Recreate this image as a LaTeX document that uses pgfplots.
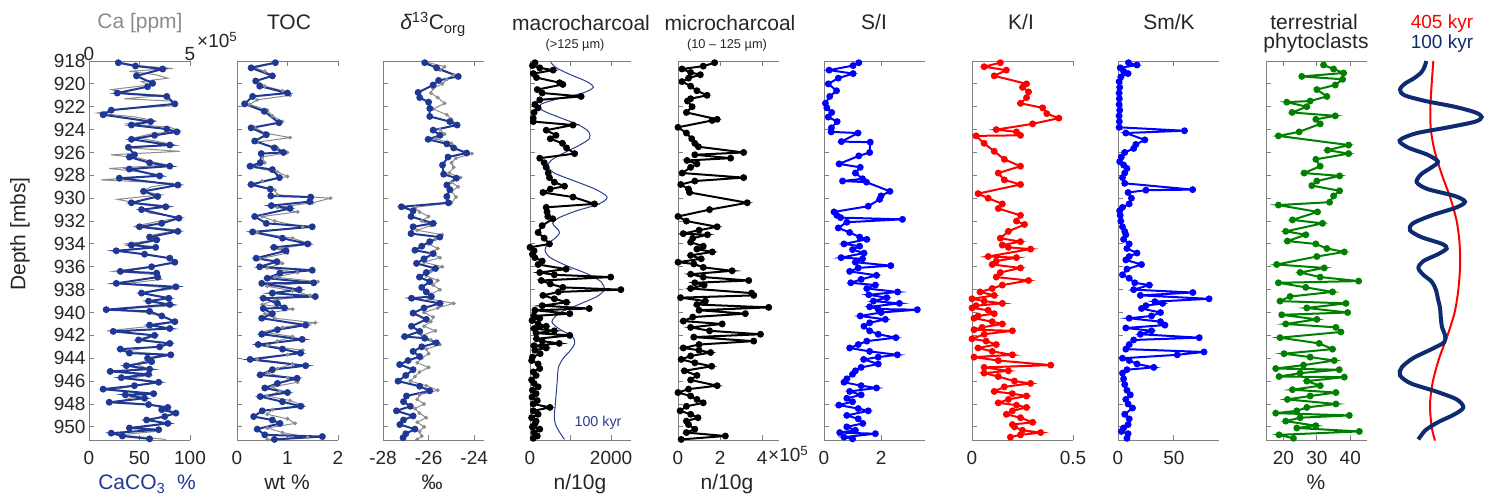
\documentclass[border=0pt]{standalone}
\usepackage{fontspec}
\setmainfont{Liberation Sans}
\usepackage{pgfplots}
\usepackage{pgfplotstable}
\pgfplotsset{compat=1.18}

\definecolor{axgray}{HTML}{808080}
\definecolor{lbl}{HTML}{262626}
\definecolor{cablue}{HTML}{1F3894}
\definecolor{grayser}{HTML}{8C8C8C}
\definecolor{navy}{HTML}{0D2B6E}
\definecolor{kyrblue}{HTML}{2B3F8F}
\definecolor{phgreen}{HTML}{008000}

\newcommand\tickfont{\fontsize{19}{21}\selectfont}
\newcommand\titlefont{\fontsize{21}{23}\selectfont}
\newcommand\subfont{\fontsize{12.8}{14}\selectfont}

\pgfplotsset{
  panel/.style={
    scale only axis, width=101pt, height=379pt, anchor=south west,
    y dir=reverse, ymin=918, ymax=951.15,
    ytick={918,920,...,950}, yticklabels={},
    axis x line=box, axis y line=left,
    axis line style={draw=axgray, line width=0.9pt, -},
    every tick/.style={draw=axgray, line width=0.9pt},
    major tick length=5pt, tick align=inside,
    xticklabel style={text=lbl, font=\tickfont, yshift=-8pt},
    yticklabel style={text=lbl, font=\tickfont},
  },
  dots/.style={line width=2pt, mark=*, mark size=2.4pt, mark options={solid}},
  thin dots/.style={line width=1pt, mark=*, mark size=1.4pt, mark options={solid}},
}

% CaCO3 (%)
\pgfplotstableread{
d v
918.15 29
918.44 46
918.7 73
919.3 47
919.95 63
920.25 58
920.8 28
921.1 77
921.75 85
922.3 22
922.7 14
923.3 61
923.6 42
923.95 77
924.2 87
924.5 65
924.85 42
925.35 80
925.55 39
926.2 45
926.4 40
926.9 60
927.2 80
927.45 40
928.05 70
928.25 30
928.85 88
929.4 54
929.85 68
930.4 42
930.75 76
931.0 52
931.75 89
932.2 72
932.5 50
932.9 88
933.4 60
933.65 67
934.1 42
934.3 66
934.6 27
934.9 55
935.25 80
935.6 85
936.0 62
936.4 31
936.55 67
936.9 68
937.45 27
937.75 86
938.3 52
938.75 79
939.0 59
939.3 80
939.75 17
939.9 60
940.3 72
940.8 85
941.1 60
941.4 80
941.65 24
942.0 65
942.4 49
942.7 80
943.0 70
943.2 31
943.55 40
943.7 81
944.0 58
944.3 62
944.65 37
944.95 60
945.15 21
945.4 59
945.7 32
946.1 69
946.4 45
946.7 14
947.1 64
947.2 36
947.5 55
947.85 20
948.05 59
948.3 78
948.5 72
948.8 86
949.1 75
949.4 57
949.7 78
950.1 40
950.25 69
950.55 22
950.8 33
951.05 60
}\caco

% Ca (ppm)
\pgfplotstableread{
d v
918.1 150000
918.4 240000
918.65 415000
918.9 200000
919.2 330000
919.5 390000
919.8 260000
920.1 300000
920.5 110000
920.8 180000
921.0 370000
921.3 175000
921.5 400000
921.9 430000
922.2 150000
922.55 40000
922.9 230000
923.2 320000
923.5 190000
923.8 400000
924.1 450000
924.4 300000
924.7 230000
925.0 330000
925.3 410000
925.6 200000
925.9 450000
926.2 110000
926.5 250000
926.8 310000
927.1 390000
927.4 100000
927.7 260000
928.0 360000
928.4 60000
928.7 420000
929.0 310000
929.4 260000
929.7 360000
930.1 140000
930.4 230000
930.7 400000
931.0 270000
931.3 300000
931.7 460000
932.0 350000
932.4 240000
932.8 440000
933.2 320000
933.6 350000
934.0 180000
934.3 320000
934.6 140000
935.0 300000
935.3 410000
935.7 420000
936.1 250000
936.4 120000
936.7 340000
937.1 360000
937.5 170000
937.9 430000
938.3 260000
938.7 400000
939.0 320000
939.4 420000
939.75 100000
940.0 280000
940.4 380000
940.8 430000
941.2 310000
941.6 90000
942.0 330000
942.4 270000
942.7 410000
943.1 280000
943.4 180000
943.7 400000
944.1 300000
944.5 230000
944.9 290000
945.2 130000
945.5 300000
945.8 180000
946.1 340000
946.5 200000
946.8 100000
947.1 320000
947.4 220000
947.8 150000
948.1 310000
948.4 380000
948.8 430000
949.1 360000
949.4 300000
949.7 390000
950.1 230000
950.4 330000
950.7 150000
951.1 380000
}\ca

% TOC blue
\pgfplotstableread{
d v
918.15 0.76
918.6 0.28
919.3 0.70
919.75 0.37
920.2 0.45
920.8 1.00
921.1 0.31
921.75 0.15
922.4 0.54
923.4 0.83
923.85 0.28
924.45 0.58
925.0 0.35
925.6 0.74
926.0 0.92
926.1 0.48
926.9 0.46
927.2 0.26
927.5 0.70
928.2 0.84
928.8 0.28
929.2 0.66
929.8 0.67
929.9 1.46
930.3 1.44
930.65 0.68
930.9 1.05
931.6 0.35
932.2 0.58
932.5 1.49
932.95 0.31
933.5 0.9
934.0 1.40
934.3 0.73
934.6 0.97
935.25 0.38
935.55 0.79
936.0 0.45
936.3 1.49
936.55 0.85
937.0 0.6
937.4 1.52
937.45 0.49
938.0 1.23
938.3 0.7
938.6 1.55
938.75 0.52
939.2 0.8
939.6 0.94
939.65 0.52
940.1 0.7
940.5 0.49
941.1 1.36
941.5 0.8
941.9 0.49
942.35 1.29
942.8 0.42
943.2 0.9
943.55 1.26
944.1 0.26
944.65 1.36
945.0 0.7
945.45 0.46
945.75 1.19
946.2 0.8
946.6 0.55
947.0 1.0
947.35 0.46
947.8 0.9
948.2 1.26
948.6 0.5
949.1 0.33
949.4 0.7
949.7 0.85
950.2 0.4
950.7 0.55
950.85 1.69
951.1 0.74
}\toc

% TOC gray
\pgfplotstableread{
d v
918.1 0.78
918.5 0.3
918.9 0.55
919.3 0.72
919.7 0.4
920.2 0.55
920.6 0.9
921.0 1.05
921.4 0.4
921.8 0.25
922.3 0.6
922.8 0.7
923.3 0.9
923.8 0.35
924.3 0.55
924.7 1.05
925.1 0.4
925.6 0.8
926.0 1.0
926.4 0.5
926.9 0.55
927.3 0.3
927.7 0.8
928.1 1.0
928.5 0.5
928.9 0.3
929.3 0.75
929.7 0.8
930.0 1.85
930.4 1.5
930.8 0.8
931.2 1.2
931.6 0.5
932.0 0.75
932.5 1.3
933.0 0.4
933.5 1.1
934.0 1.45
934.4 0.85
934.8 1.0
935.3 0.45
935.7 0.9
936.1 0.6
936.5 1.2
936.9 0.75
937.3 1.6
937.7 0.6
938.1 1.1
938.5 1.45
938.9 0.75
939.3 0.5
939.7 1.1
940.1 0.55
940.5 0.75
940.9 1.55
941.3 0.9
941.7 0.5
942.1 1.1
942.5 0.8
942.9 0.6
943.3 1.3
943.7 1.0
944.1 0.4
944.5 1.1
944.9 0.8
945.3 0.6
945.7 1.0
946.1 1.2
946.5 0.7
946.9 0.85
947.3 0.6
947.7 1.05
948.1 1.3
948.5 0.7
948.9 0.6
949.3 1.0
949.7 1.15
950.1 0.6
950.5 0.9
950.9 1.4
951.1 0.6
}\tocg

% d13C blue
\pgfplotstableread{
d v
918.15 -26.17
918.6 -25.65
919.35 -24.70
919.7 -25.56
920.1 -25.80
920.75 -26.46
921.2 -26.39
921.6 -26.0
922.15 -25.95
922.85 -25.95
923.3 -25.07
923.6 -24.75
924.05 -25.8
924.5 -25.5
924.85 -26.02
925.25 -25.2
925.6 -24.9
926.05 -24.33
926.4 -25.15
927.1 -25.39
927.9 -25.34
928.25 -24.78
928.85 -25.2
929.25 -25.07
929.85 -25.2
930.4 -25.13
930.75 -27.19
931.1 -26.68
931.6 -26.77
932.2 -25.80
932.5 -26.68
933.1 -26.77
933.4 -25.51
933.8 -25.95
934.2 -26.3
934.55 -26.6
934.85 -25.8
935.3 -26.2
935.7 -26.53
936.15 -25.7
936.5 -26.1
936.9 -26.4
937.3 -25.95
937.8 -26.3
938.2 -26.1
938.6 -25.88
938.75 -26.75
939.2 -25.5
939.6 -26.2
940.05 -26.68
940.6 -26.1
941.2 -26.75
941.65 -26.39
942.1 -27.05
942.25 -26.17
942.65 -25.66
943.0 -26.3
943.4 -26.68
943.85 -26.39
944.2 -26.9
944.55 -27.27
945.0 -26.68
945.5 -27.0
946.0 -27.34
946.45 -26.39
946.85 -25.95
947.3 -26.97
947.8 -27.1
948.2 -26.8
948.6 -27.41
949.05 -26.68
949.4 -27.1
949.8 -27.26
950.2 -26.6
950.6 -27.0
950.95 -27.12
}\dc

% d13C gray
\pgfplotstableread{
d v
918.1 -26.1
918.5 -25.3
918.8 -25.5
919.2 -24.9
919.6 -25.2
920.0 -25.4
920.4 -25.8
920.8 -25.9
921.2 -25.6
921.7 -25.3
922.2 -25.8
922.7 -25.2
923.1 -25.0
923.5 -24.8
924.0 -25.5
924.4 -25.3
924.8 -25.7
925.2 -25.0
925.7 -24.9
926.1 -24.1
926.5 -24.8
926.9 -25.0
927.3 -24.9
927.8 -25.1
928.2 -24.6
928.6 -25.0
929.0 -24.7
929.4 -25.0
929.9 -24.8
930.4 -25.0
930.8 -26.6
931.2 -26.4
931.6 -26.0
932.0 -26.3
932.4 -25.9
932.8 -26.5
933.2 -25.4
933.6 -25.7
934.0 -26.0
934.4 -25.6
934.8 -25.9
935.2 -25.5
935.6 -26.2
936.0 -25.4
936.4 -25.9
936.8 -26.1
937.2 -25.6
937.6 -25.8
938.0 -25.5
938.4 -25.9
938.8 -26.0
939.2 -24.9
939.6 -25.6
940.0 -26.2
940.4 -25.8
940.8 -25.9
941.2 -26.2
941.6 -25.7
942.0 -26.3
942.4 -25.9
942.8 -25.5
943.2 -26.1
943.6 -26.0
944.0 -26.3
944.4 -26.5
944.8 -26.0
945.2 -26.4
945.6 -26.6
946.0 -26.8
946.4 -26.1
946.8 -25.6
947.2 -26.4
947.6 -26.5
948.0 -26.2
948.4 -26.6
948.8 -26.4
949.2 -26.1
949.6 -26.5
950.0 -26.2
950.4 -26.4
950.8 -26.3
951.1 -26.5
}\dcg

% macrocharcoal
\pgfplotstableread{
d v
918.15 122
918.4 60
918.6 240
918.8 570
919.1 80
919.45 160
919.9 730
920.05 810
920.5 180
920.8 300
921.1 1260
921.4 240
921.8 120
922.1 200
922.5 100
923.0 80
923.3 80
923.6 1060
924.05 400
924.5 640
924.8 500
925.2 800
925.6 900
926.1 1100
926.5 240
926.9 350
927.3 400
927.8 450
928.2 480
928.6 600
928.95 850
929.2 500
929.5 320
929.9 1060
930.5 1590
930.8 400
931.2 420
931.6 440
931.8 560
932.4 300
933.0 200
933.5 350
934.0 480
934.3 0
934.6 100
934.9 60
935.2 120
935.5 300
935.8 200
936.2 890
936.5 240
936.7 600
936.9 1990
937.2 280
937.5 500
937.8 810
938.0 2240
938.2 700
938.5 320
938.8 600
939.1 900
939.4 300
939.65 1460
939.8 120
940.1 980
940.3 100
940.5 240
940.7 50
941.0 200
941.2 400
941.4 100
941.6 600
941.8 150
942.0 980
942.3 160
942.5 300
942.7 720
942.9 100
943.1 400
943.3 120
943.6 250
943.9 60
944.2 40
944.5 200
944.9 240
945.2 80
945.5 150
945.9 40
946.2 100
946.5 200
946.8 60
947.1 150
947.4 50
947.7 180
948.0 80
948.3 490
948.6 80
948.9 200
949.2 40
949.5 150
949.75 120
950.0 60
950.2 240
950.5 100
950.8 180
951.0 80
}\macro

% 100 kyr filter drawn in the macrocharcoal panel
\pgfplotstableread{
d v
918.1 510
918.6 650
919.2 1000
919.8 1400
920.3 1560
920.8 1300
921.3 700
921.8 260
922.3 300
922.9 700
923.6 1200
924.2 1450
924.8 1460
925.4 1200
926.1 800
926.7 520
927.2 440
927.8 600
928.5 1100
929.2 1600
929.9 1900
930.5 1700
931.1 1150
931.7 720
932.2 560
932.6 650
933.0 730
933.5 620
934.0 430
934.6 370
935.2 500
935.9 900
936.6 1400
937.3 1750
938.0 1830
938.6 1650
939.3 1200
940.0 750
940.8 540
941.5 750
942.1 1050
942.7 1100
943.3 1000
944.0 820
944.8 700
945.6 680
946.5 660
947.3 640
948.2 620
949.0 600
949.7 620
950.3 700
951.1 850
}\macrokyr

% microcharcoal
\pgfplotstableread{
d v
918.15 174000
918.45 120000
918.7 19000
919.0 60000
919.2 106000
919.5 50000
919.8 19000
920.2 60000
920.6 90000
921.0 138000
921.3 60000
921.5 45000
922.0 67000
922.5 40000
923.1 186000
923.2 162000
923.8 0
924.3 40000
924.8 65000
925.2 80000
925.5 97000
926.0 312000
926.2 80000
926.5 250000
926.7 43000
927.0 90000
927.3 60000
927.8 20000
928.2 312000
928.5 80000
928.8 13000
929.2 50000
929.5 55000
930.4 329000
931.0 150000
931.6 0
932.0 40000
932.5 186000
932.8 100000
933.1 25000
933.2 140000
933.5 70000
933.85 60000
934.2 120000
934.45 90000
934.7 163000
935.0 60000
935.3 110000
935.6 0
935.75 75000
936.05 120000
936.35 257000
936.65 60000
936.9 120000
937.2 336000
937.4 80000
937.6 124000
937.9 60000
938.3 350000
938.5 360000
938.7 12000
939.0 130000
939.3 90000
939.55 431000
939.8 100000
940.1 320000
940.4 70000
940.75 25000
941.0 210000
941.3 60000
941.6 150000
941.9 392000
942.15 75000
942.5 360000
942.8 100000
943.1 25000
943.3 100000
943.5 155000
943.8 60000
944.1 15000
944.4 80000
944.7 160000
945.1 30000
945.5 90000
945.9 60000
946.4 186000
946.7 50000
947.0 0
947.3 60000
947.6 90000
947.9 120000
948.2 40000
948.6 10000
948.9 60000
949.2 95000
949.5 40000
949.8 50000
950.2 80000
950.5 40000
950.8 225000
951.1 15000
}\micro

% S/I
\pgfplotstableread{
d v
918.15 1.22
918.4 1.02
918.8 0.18
919.1 1.02
919.5 0.5
920.0 0.15
920.6 0.44
921.1 0.2
921.7 0.05
922.1 0.1
922.5 0.27
922.9 0.15
923.3 0.46
923.85 0.26
924.2 0.25
924.3 1.19
925.05 0.61
925.1 1.62
926.0 1.6
926.3 1.22
927.0 0.53
927.3 1.27
927.8 1.1
928.3 1.35
928.5 0.65
928.6 1.49
929.4 2.31
929.8 2.0
930.1 1.95
930.7 1.55
931.2 0.35
931.5 0.45
931.7 0.58
931.85 2.75
932.1 0.8
932.6 0.5
933.0 0.9
933.4 1.25
933.6 1.5
934.0 0.7
934.2 1.25
934.5 1.0
934.8 1.4
935.2 0.6
935.3 1.35
935.6 1.1
935.9 2.34
936.1 1.2
936.4 0.9
936.75 1.84
937.1 1.3
937.4 0.94
937.6 1.8
937.9 1.5
938.2 2.58
938.45 1.57
938.7 2.2
939.0 1.73
939.2 2.64
939.5 1.6
939.7 1.9
939.75 3.27
940.0 2.0
940.3 1.27
940.6 2.15
940.9 1.6
941.2 1.4
941.6 1.6
941.9 1.9
942.2 2.52
942.5 1.5
942.8 1.2
943.1 0.9
943.4 1.6
943.7 2.57
943.9 1.9
944.1 1.39
944.5 1.9
944.8 1.3
945.1 1.1
945.4 1.0
945.8 0.8
946.1 0.7
946.4 1.3
946.6 1.84
946.9 0.9
947.2 1.3
947.5 0.8
947.8 1.0
948.1 0.52
948.4 1.2
948.6 1.55
949.0 0.8
949.3 1.2
949.7 1.36
950.0 0.8
950.3 1.1
950.5 0.55
950.6 1.8
950.9 0.7
951.05 1.0
}\si

% K/I
\pgfplotstableread{
d v
918.15 0.14
918.5 0.06
918.8 0.17
919.3 0.11
920.0 0.27
920.3 0.25
920.7 0.28
921.2 0.27
921.7 0.24
922.1 0.35
922.6 0.37
923.0 0.43
923.5 0.30
924.0 0.12
924.2 0.22
924.5 0.24
924.55 0.02
925.2 0.06
925.9 0.11
926.6 0.16
927.2 0.24
927.8 0.13
928.4 0.16
928.8 0.24
929.6 0.03
930.0 0.08
930.5 0.15
930.9 0.13
931.5 0.24
932.0 0.22
932.3 0.26
932.9 0.18
933.5 0.14
933.8 0.24
934.1 0.15
934.3 0.18
934.45 0.29
935.1 0.08
935.2 0.22
935.5 0.12
935.8 0.10
936.1 0.24
936.5 0.14
936.9 0.12
937.2 0.28
937.6 0.15
937.9 0.1
938.2 0.04
938.5 0.11
938.8 0.0
939.0 0.06
939.2 0.15
939.4 0.02
939.6 0.0
939.8 0.08
940.1 0.11
940.3 0.03
940.5 0.01
940.8 0.1
941.0 0.15
941.3 0.05
941.5 0.01
941.6 0.2
941.9 0.06
942.3 0.0
942.5 0.07
942.8 0.12
943.1 0.03
943.4 0.1
943.7 0.2
943.9 0.01
944.2 0.13
944.6 0.39
944.8 0.06
945.1 0.18
945.3 0.06
945.6 0.13
946.0 0.21
946.2 0.29
946.5 0.16
946.9 0.11
947.1 0.2
947.3 0.27
947.6 0.18
947.9 0.13
948.1 0.22
948.3 0.27
948.6 0.2
948.9 0.17
949.2 0.24
949.6 0.3
949.8 0.2
950.0 0.21
950.3 0.25
950.5 0.34
950.7 0.24
950.9 0.19
}\ki

% Sm/K
\pgfplotstableread{
d v
918.15 9.4
918.35 17
918.6 2
918.9 5
919.1 9
919.4 2.5
919.8 1
920.3 1.5
920.8 1
921.3 1.2
921.8 1
922.3 1.5
922.8 1
923.3 1.2
923.8 1
924.1 59.5
924.3 7
924.9 24
925.3 16
925.65 14
926.0 6
926.4 3
926.8 1.5
927.1 5
927.4 8
927.8 6
928.2 4
928.7 6
929.25 66.8
929.3 25
929.5 9
930.0 12
930.5 10
930.8 4
931.1 1.5
931.5 2
932.0 2.5
932.5 4
932.9 6
933.2 7
933.6 5
934.0 10
934.4 8
934.8 17
935.1 10
935.4 7
935.8 21
936.2 8
936.7 4
937.0 10
937.4 15
937.6 28
938.0 14
938.25 67
938.5 20
938.8 81.5
939.05 33
939.2 40
939.4 25
939.65 21
940.0 38
940.3 30
940.5 10
940.8 38
941.1 42
941.35 7
941.6 30
941.9 20
942.2 72.7
942.4 14
942.8 10
943.2 7
943.45 77
943.7 53
944.0 4
944.2 10
944.5 17
944.8 32
945.0 8
945.3 4
945.8 5
946.3 6
946.8 8
947.2 11
947.6 7
948.0 9
948.35 13
948.9 6
949.3 10
949.8 9
950.1 5
950.4 3
950.6 9
951.0 8
}\smk

% terrestrial phytoclasts
\pgfplotstableread{
d v
918.35 32
918.7 35
919.05 38
919.35 25.5
919.6 37.7
920.1 35.5
920.5 30
921.1 33
921.5 28
921.6 21
922.0 27
922.5 22.6
922.8 35.5
923.1 29.7
923.5 31
924.2 24.7
924.55 18.5
925.35 39.5
925.8 33.2
926.1 39.5
926.6 29.7
927.2 31
927.8 26.2
928.05 36.8
928.5 30
928.9 28.5
929.35 36.8
929.8 35
930.35 33.8
930.6 18.5
931.2 30.2
931.9 22.7
932.2 31.7
932.9 20.7
933.2 26.7
933.75 21.2
934.0 29.7
934.4 33
934.7 38.2
935.1 30
935.8 18
936.1 32.2
936.5 25
936.9 31
937.25 42.5
937.4 18.5
937.8 26.7
938.2 34.7
938.6 22
939.0 19
939.2 38.7
939.6 27
940.0 39.2
940.2 19.5
940.6 30
941.0 20.7
941.3 35.7
941.7 37.2
942.2 19
942.7 30.7
943.2 34.7
943.6 20.2
943.9 28
944.2 35.2
944.6 26
944.9 17.7
945.0 36.7
945.3 25
945.6 18.7
945.65 38.2
946.0 27
946.4 31
946.75 22.7
947.0 35.7
947.3 28
947.6 21.2
948.0 35.7
948.3 27
948.6 24
948.8 17.7
949.0 39.7
949.2 25
949.5 20.7
949.9 29.7
950.1 24
950.4 42.7
950.7 18.7
951.0 23
}\phyto

% orbital filters (normalised)
\pgfplotstableread{
d v
918.0 -0.33
918.5 -0.37
919.0 -0.45
919.5 -0.62
920.0 -0.85
920.5 -0.96
921.0 -0.85
921.5 -0.35
922.0 0.35
922.5 0.85
922.9 1.0
923.3 0.85
923.8 0.2
924.3 -0.55
924.8 -0.92
925.1 -0.96
925.6 -0.75
926.2 -0.3
926.8 -0.05
927.3 -0.2
927.9 -0.45
928.6 -0.56
929.2 -0.3
929.8 0.35
930.3 0.6
930.8 0.4
931.5 -0.2
932.2 -0.65
932.8 -0.72
933.4 -0.45
934.0 0.05
934.4 0.16
934.9 -0.05
935.5 -0.4
936.1 -0.52
936.7 -0.4
937.3 -0.2
938.0 -0.1
938.8 -0.05
939.6 0.0
940.5 0.02
941.3 0.05
942.0 0.12
942.6 0.1
943.2 -0.2
944.0 -0.65
944.8 -0.92
945.5 -0.96
946.2 -0.7
946.9 -0.1
947.6 0.4
948.3 0.56
948.9 0.35
949.6 -0.05
950.3 -0.35
951.1 -0.52
}\ecc

\pgfplotstableread{
d v
918.0 -0.16
920.0 -0.2
922.0 -0.23
924.0 -0.22
926.0 -0.12
928.0 0.05
930.0 0.25
932.0 0.4
934.0 0.47
936.0 0.48
938.0 0.44
940.0 0.35
942.0 0.18
944.0 -0.02
946.0 -0.17
948.0 -0.24
950.0 -0.2
951.2 -0.12
}\longecc

\begin{document}
\begin{tikzpicture}
\useasboundingbox (0pt,0pt) rectangle (1493pt,500pt);

% ---- panel 1: Ca (top axis) and CaCO3 (bottom axis)
\begin{axis}[scale only axis, width=101pt, height=379pt, anchor=south west, at={(89pt,60pt)},
    y dir=reverse, ymin=918, ymax=951.15, xmin=0, xmax=500000,
    axis x line*=top, hide y axis, scaled x ticks=false,
    axis line style={draw=axgray, line width=0.9pt, -},
    every tick/.style={draw=axgray, line width=0.9pt},
    major tick length=5pt, tick align=inside,
    xtick={0,500000}, xticklabels={0,5},
    xticklabel style={text=lbl, font=\tickfont, yshift=-3pt}]
\addplot[grayser, line width=1pt] table[x=v, y=d] {\ca};
\end{axis}
\begin{axis}[panel, at={(89pt,60pt)}, xmin=0, xmax=100, xtick={0,50,100}, xticklabels={0,50,100},
    yticklabels={918,920,922,924,926,928,930,932,934,936,938,940,942,944,946,948,950}]
\addplot[cablue, dots] table[x=v, y=d] {\caco};
\end{axis}

% ---- panel 2: TOC
\begin{axis}[panel, at={(237pt,60pt)}, xmin=0, xmax=2, xtick={0,1,2}, xticklabels={0,1,2}]
\addplot[grayser, thin dots] table[x=v, y=d] {\tocg};
\addplot[cablue, dots] table[x=v, y=d] {\toc};
\end{axis}

% ---- panel 3: d13C
\begin{axis}[panel, at={(383pt,60pt)}, xmin=-28, xmax=-23.57, xtick={-28,-26,-24}, xticklabels={-28,-26,-24}]
\addplot[grayser, thin dots] table[x=v, y=d] {\dcg};
\addplot[cablue, dots] table[x=v, y=d] {\dc};
\end{axis}

% ---- panel 4: macrocharcoal
\begin{axis}[panel, at={(530pt,60pt)}, xmin=0, xmax=2490, xtick={0,1000,2000}, xticklabels={0,,2000}]
\addplot[kyrblue, line width=1pt, smooth] table[x=v, y=d] {\macrokyr};
\addplot[black, dots] table[x=v, y=d] {\macro};
\end{axis}

% ---- panel 5: microcharcoal
\begin{axis}[panel, at={(678pt,60pt)}, xmin=0, xmax=480000, scaled x ticks=false,
    xtick={0,200000,400000}, xticklabels={0,2,4}]
\addplot[black, dots] table[x=v, y=d] {\micro};
\end{axis}

% ---- panel 6: S/I
\begin{axis}[panel, at={(824pt,60pt)}, xmin=0, xmax=3.54, xtick={0,2}, xticklabels={0,2}]
\addplot[blue, dots] table[x=v, y=d] {\si};
\end{axis}

% ---- panel 7: K/I
\begin{axis}[panel, at={(972pt,60pt)}, xmin=0, xmax=0.5, xtick={0,0.5}, xticklabels={0,0.5}]
\addplot[red, dots] table[x=v, y=d] {\ki};
\end{axis}

% ---- panel 8: Sm/K
\begin{axis}[panel, at={(1118pt,60pt)}, xmin=0, xmax=90.4, xtick={0,50}, xticklabels={0,50}]
\addplot[blue, dots] table[x=v, y=d] {\smk};
\end{axis}

% ---- panel 9: terrestrial phytoclasts
\begin{axis}[panel, at={(1266pt,60pt)}, xmin=14.8, xmax=45, xtick={20,30,40}, xticklabels={20,30,40}]
\addplot[phgreen, dots] table[x=v, y=d] {\phyto};
\end{axis}

% ---- panel 10: orbital filters
\begin{axis}[scale only axis, width=100pt, height=379pt, anchor=south west, at={(1390pt,60pt)},
    y dir=reverse, ymin=918, ymax=951.15, xmin=-1.2, xmax=1.2, hide axis]
\addplot[red, line width=2pt, smooth] table[x=v, y=d] {\longecc};
\addplot[navy, line width=4pt, smooth] table[x=v, y=d] {\ecc};
\end{axis}

% ---- titles and labels
\begin{scope}[x=1pt, y=1pt, every node/.style={inner sep=0pt, text=lbl}]
\node[anchor=base, font=\titlefont, text=grayser] at (140,471) {Ca [ppm]};
\node[anchor=base west, font=\tickfont] at (197,452) {×10\textsuperscript{5}};
\node[anchor=base, font=\titlefont] at (289,470) {TOC};
\node[anchor=base, font=\titlefont] at (433,470) {{\itshape δ}\textsuperscript{13}C\textsubscript{org}};
\node[anchor=base, font=\titlefont] at (581,469) {macrocharcoal};
\node[anchor=base, font=\subfont] at (575,451) {(>125 µm)};
\node[anchor=base, font=\titlefont] at (730,469) {microcharcoal};
\node[anchor=base, font=\subfont] at (727,451) {(10 – 125 µm)};
\node[anchor=base, font=\titlefont] at (874,470) {S/I};
\node[anchor=base, font=\titlefont] at (1021,470) {K/I};
\node[anchor=base, font=\titlefont] at (1169,470) {Sm/K};
\node[anchor=base, font=\titlefont] at (1314,470) {terrestrial};
\node[anchor=base, font=\titlefont] at (1316,451) {phytoclasts};
\node[anchor=base, font=\tickfont, text=red] at (1442,471) {405 kyr};
\node[anchor=base, font=\tickfont, text=navy] at (1442,451) {100 kyr};
\node[anchor=base, font=\fontsize{14.3}{16}\selectfont, text=kyrblue] at (598,73) {100 kyr};
\node[anchor=base west, font=\tickfont] at (768,38) {×10\textsuperscript{5}};
\node[anchor=base, font=\titlefont, text=cablue] at (147,10) {CaCO\textsubscript{3}\ \ \%};
\node[anchor=base, font=\titlefont] at (287,10) {wt \%};
\node[anchor=base, font=\titlefont] at (432,10) {‰};
\node[anchor=base, font=\titlefont] at (580,10) {n/10g};
\node[anchor=base, font=\titlefont] at (727,10) {n/10g};
\node[anchor=base, font=\titlefont] at (1316,10) {\%};
\node[rotate=90, font=\titlefont] at (20,266) {Depth [mbs]};
\end{scope}
\end{tikzpicture}
\end{document}
